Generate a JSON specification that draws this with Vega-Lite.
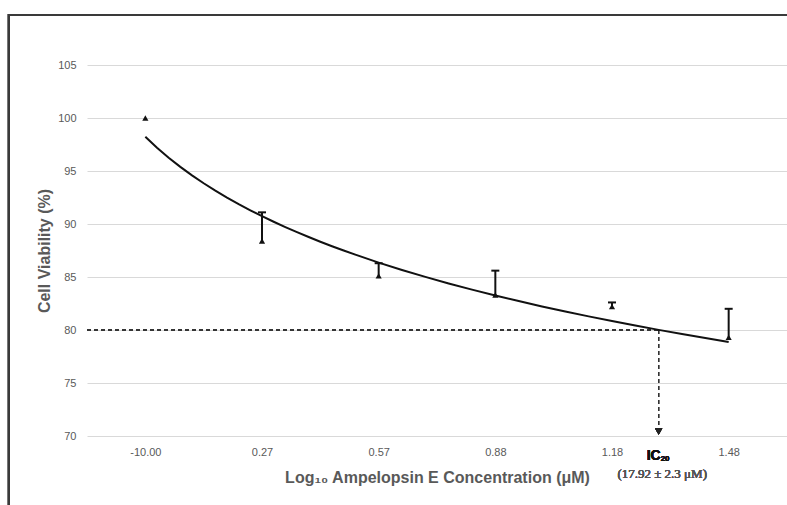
{
  "$schema": "https://vega.github.io/schema/vega-lite/v6.json",
  "width": 700,
  "height": 371,
  "autosize": "none",
  "padding": {"left": 87, "top": 65, "right": 0, "bottom": 69},
  "background": "white",
  "config": {
    "view": {"stroke": null},
    "axis": {
      "labelFont": "Liberation Sans",
      "labelFontSize": 11,
      "labelColor": "#595959",
      "titleFont": "Liberation Sans",
      "titleFontSize": 16,
      "titleFontWeight": "bold",
      "titleColor": "#595959",
      "tickSize": 0,
      "domain": false
    }
  },
  "data": {
    "values": [
      {"idx": 1, "conc": "-10.00", "viability": 100.0, "upper": 100.0},
      {"idx": 2, "conc": "0.27", "viability": 88.4, "upper": 91.1},
      {"idx": 3, "conc": "0.57", "viability": 85.1, "upper": 86.3},
      {"idx": 4, "conc": "0.88", "viability": 83.3, "upper": 85.6},
      {"idx": 5, "conc": "1.18", "viability": 82.2, "upper": 82.6},
      {"idx": 6, "conc": "1.48", "viability": 79.3, "upper": 82.0}
    ]
  },
  "encoding": {
    "x": {
      "field": "idx",
      "type": "quantitative",
      "scale": {"domain": [0.5, 6.5], "nice": false, "zero": false},
      "axis": {
        "values": [1, 2, 3, 4, 5, 6],
        "labelExpr": "['-10.00','0.27','0.57','0.88','1.18','1.48'][datum.value - 1]",
        "grid": false,
        "labelPadding": 10,
        "title": "Log₁₀ Ampelopsin E Concentration (μM)",
        "titlePadding": 12
      }
    },
    "y": {
      "field": "viability",
      "type": "quantitative",
      "scale": {"domain": [70, 105], "nice": false, "zero": false},
      "axis": {
        "values": [70, 75, 80, 85, 90, 95, 100, 105],
        "grid": true,
        "gridColor": "#d9d9d9",
        "gridWidth": 1,
        "labelPadding": 11,
        "title": "Cell Viability (%)",
        "titlePadding": 5
      }
    }
  },
  "layer": [
    {
      "mark": {"type": "rect", "filled": false, "stroke": "#3a3a3a", "strokeWidth": 2, "clip": false},
      "encoding": {
        "x": {"datum": -0.17},
        "x2": {"datum": 7.5},
        "y": {"datum": 109.72},
        "y2": {"datum": 55}
      }
    },
    {
      "mark": {"type": "rule", "color": "#333333", "strokeWidth": 1, "strokeDash": [4, 3]},
      "encoding": {
        "x": {"datum": 0.5},
        "x2": {"datum": 5.4},
        "y": {"datum": 80}
      }
    },
    {
      "mark": {"type": "rule", "color": "#333333", "strokeWidth": 1, "strokeDash": [4, 3]},
      "encoding": {
        "x": {"datum": 5.4},
        "y": {"datum": 80},
        "y2": {"datum": 70.6}
      }
    },
    {
      "mark": {"type": "point", "shape": "triangle-down", "filled": true, "color": "#222222", "size": 55, "opacity": 1},
      "encoding": {
        "x": {"datum": 5.4},
        "y": {"datum": 70.42}
      }
    },
    {
      "mark": {"type": "text", "font": "Liberation Sans", "fontSize": 14, "fontWeight": "bold", "color": "#111111", "align": "right", "baseline": "middle", "dx": 2},
      "encoding": {
        "x": {"datum": 5.4},
        "y": {"datum": 68.1},
        "text": {"value": "IC"}
      }
    },
    {
      "mark": {"type": "text", "font": "Liberation Sans", "fontSize": 8, "fontWeight": "bold", "color": "#111111", "align": "left", "baseline": "middle", "dx": 2, "dy": 3},
      "encoding": {
        "x": {"datum": 5.4},
        "y": {"datum": 68.1},
        "text": {"value": "20"}
      }
    },
    {
      "mark": {"type": "text", "font": "Liberation Serif", "fontSize": 13, "fontWeight": "normal", "color": "#555555", "align": "center", "baseline": "middle"},
      "encoding": {
        "x": {"datum": 5.43},
        "y": {"datum": 66.4},
        "text": {"value": "(17.92 ± 2.3 μM)"}
      }
    },
    {
      "transform": [{"regression": "viability", "on": "idx", "method": "log"}],
      "mark": {"type": "line", "color": "#111111", "strokeWidth": 2},
      "encoding": {}
    },
    {
      "transform": [{"filter": "datum.upper > datum.viability"}],
      "mark": {"type": "rule", "color": "#111111", "strokeWidth": 2},
      "encoding": {
        "y2": {"field": "upper"}
      }
    },
    {
      "transform": [{"filter": "datum.upper > datum.viability"}],
      "mark": {"type": "tick", "orient": "horizontal", "color": "#111111", "thickness": 2, "size": 8, "opacity": 1},
      "encoding": {
        "y": {"field": "upper", "type": "quantitative"}
      }
    },
    {
      "mark": {"type": "point", "shape": "triangle-up", "filled": true, "color": "#111111", "size": 38, "opacity": 1},
      "encoding": {}
    }
  ]
}
